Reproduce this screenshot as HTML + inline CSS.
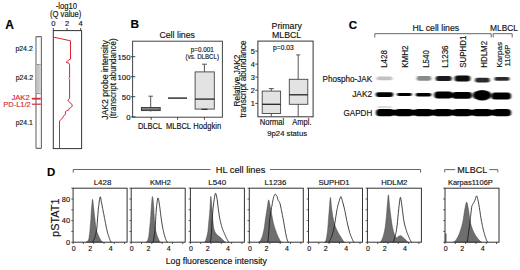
<!DOCTYPE html>
<html><head><meta charset="utf-8"><style>
html,body{margin:0;padding:0;background:#fff;width:520px;height:270px;overflow:hidden}
svg{display:block}
text{font-family:"Liberation Sans",sans-serif}
</style></head><body>
<svg width="520" height="270" viewBox="0 0 520 270">
<rect width="520" height="270" fill="#fff"/>
<text x="5.3" y="28.6" font-size="12" text-anchor="start" fill="#000" stroke="#000" stroke-width="0.15" font-weight="bold">A</text>
<text x="66.4" y="8.5" font-size="8.4" text-anchor="middle" fill="#111" stroke="#111" stroke-width="0.15" textLength="21.2" lengthAdjust="spacingAndGlyphs">-log10</text>
<text x="65.7" y="16.5" font-size="8.4" text-anchor="middle" fill="#111" stroke="#111" stroke-width="0.15" textLength="31.4" lengthAdjust="spacingAndGlyphs">(Q value)</text>
<text x="53.3" y="25.5" font-size="7.6" text-anchor="middle" fill="#111" stroke="#111" stroke-width="0.15">0</text>
<line x1="53.3" y1="28" x2="53.3" y2="30.6" stroke="#333" stroke-width="0.9"/>
<text x="67" y="25.5" font-size="7.6" text-anchor="middle" fill="#111" stroke="#111" stroke-width="0.15">2</text>
<line x1="67" y1="28" x2="67" y2="30.6" stroke="#333" stroke-width="0.9"/>
<text x="80.7" y="25.5" font-size="7.6" text-anchor="middle" fill="#111" stroke="#111" stroke-width="0.15">4</text>
<line x1="80.7" y1="28" x2="80.7" y2="30.6" stroke="#333" stroke-width="0.9"/>
<rect x="53.3" y="30.6" width="28.3" height="118" fill="none" stroke="#333" stroke-width="1"/>
<rect x="36.0" y="36.6" width="5.4" height="111.8" rx="0.6" ry="0.6" fill="#fff" stroke="#6a6a6a" stroke-width="1.1"/>
<rect x="36.5" y="64.0" width="4.4" height="28.6" fill="#c4c4c4"/>
<rect x="36.5" y="64.0" width="4.4" height="0.8" fill="#888"/>
<rect x="36.5" y="93.0" width="4.4" height="0.9" fill="#777"/>
<rect x="39.7" y="37.2" width="0.6" height="110.6" fill="#e2e2e2"/>
<line x1="31.8" y1="98.7" x2="40.8" y2="98.7" stroke="#d42a3a" stroke-width="1.8"/>
<line x1="31.8" y1="104.2" x2="40.8" y2="104.2" stroke="#d42a3a" stroke-width="1.2"/>
<text x="32.8" y="50.8" font-size="7.2" text-anchor="end" fill="#111" stroke="#111" stroke-width="0.15" textLength="17.4" lengthAdjust="spacingAndGlyphs">p24.2</text>
<text x="33.1" y="80.2" font-size="7.2" text-anchor="end" fill="#111" stroke="#111" stroke-width="0.15" textLength="17.4" lengthAdjust="spacingAndGlyphs">p24.2</text>
<text x="29.8" y="99.9" font-size="7.6" text-anchor="end" fill="#d42a3a" stroke="#d42a3a" stroke-width="0.15" textLength="18.4" lengthAdjust="spacingAndGlyphs">JAK2</text>
<text x="30.8" y="107.3" font-size="7.6" text-anchor="end" fill="#d42a3a" stroke="#d42a3a" stroke-width="0.15" textLength="27.6" lengthAdjust="spacingAndGlyphs">PD-L1/2</text>
<text x="32.9" y="125.2" font-size="7.2" text-anchor="end" fill="#111" stroke="#111" stroke-width="0.15" textLength="17.2" lengthAdjust="spacingAndGlyphs">p24.1</text>
<polyline fill="none" stroke="#d42536" stroke-width="1.0" points="53.3,37.1 70.5,40.8 70.5,59.2 68.3,60.3 66.1,62.4 68.9,63.1 69.6,64.8 69.6,77.6 68.9,78.4 69.6,79.2 69.6,98.2 68.0,100.2 68.6,101.3 70.2,103.0 72.0,104.4 72.3,106.2 70.7,107.5 69.4,108.3 68.6,110.1 66.3,110.9 65.4,111.7 65.4,114.1 64.5,115.4 63.2,116.2 62.8,117.7 61.8,118.9 60.5,119.8 59.5,121.2 59.5,148.5"/>
<text x="130.4" y="28.4" font-size="11.8" text-anchor="start" fill="#000" stroke="#000" stroke-width="0.15" font-weight="bold">B</text>
<text x="177.2" y="37.8" font-size="8.8" text-anchor="middle" fill="#111" stroke="#111" stroke-width="0.15" textLength="35.5" lengthAdjust="spacingAndGlyphs">Cell lines</text>
<rect x="132.6" y="41.2" width="89.8" height="76.0" fill="none" stroke="#444" stroke-width="1"/>
<line x1="131" y1="56.7" x2="135.3" y2="56.7" stroke="#333" stroke-width="0.9"/>
<text x="130.5" y="59.7" font-size="7.8" text-anchor="end" fill="#111" stroke="#111" stroke-width="0.15">150</text>
<line x1="131" y1="76.7" x2="135.3" y2="76.7" stroke="#333" stroke-width="0.9"/>
<text x="130.5" y="79.7" font-size="7.8" text-anchor="end" fill="#111" stroke="#111" stroke-width="0.15">100</text>
<line x1="131" y1="96.7" x2="135.3" y2="96.7" stroke="#333" stroke-width="0.9"/>
<text x="130.5" y="99.7" font-size="7.8" text-anchor="end" fill="#111" stroke="#111" stroke-width="0.15">50</text>
<line x1="131" y1="116.8" x2="135.3" y2="116.8" stroke="#333" stroke-width="0.9"/>
<text x="130.5" y="119.8" font-size="7.8" text-anchor="end" fill="#111" stroke="#111" stroke-width="0.15">0</text>
<line x1="151.2" y1="117.2" x2="151.2" y2="119.8" stroke="#333" stroke-width="0.9"/>
<line x1="177.6" y1="117.2" x2="177.6" y2="119.8" stroke="#333" stroke-width="0.9"/>
<line x1="204.4" y1="117.2" x2="204.4" y2="119.8" stroke="#333" stroke-width="0.9"/>
<text x="150.0" y="128.7" font-size="8.2" text-anchor="middle" fill="#111" stroke="#111" stroke-width="0.15" textLength="24.2" lengthAdjust="spacingAndGlyphs">DLBCL</text>
<text x="178.5" y="128.7" font-size="8.2" text-anchor="middle" fill="#111" stroke="#111" stroke-width="0.15" textLength="25.0" lengthAdjust="spacingAndGlyphs">MLBCL</text>
<text x="207.2" y="128.7" font-size="8.2" text-anchor="middle" fill="#111" stroke="#111" stroke-width="0.15" textLength="27.8" lengthAdjust="spacingAndGlyphs">Hodgkin</text>
<text x="202.2" y="52.1" font-size="6.4" text-anchor="middle" fill="#111" stroke="#111" stroke-width="0.15" textLength="23.0" lengthAdjust="spacingAndGlyphs">p=0.001</text>
<text x="202.3" y="58.6" font-size="6.8" text-anchor="middle" fill="#111" stroke="#111" stroke-width="0.15" textLength="33.4" lengthAdjust="spacingAndGlyphs">(vs. DLBCL)</text>
<line x1="150.7" y1="96.2" x2="150.7" y2="107.5" stroke="#444" stroke-width="0.9"/>
<line x1="148.4" y1="96.2" x2="152.9" y2="96.2" stroke="#444" stroke-width="0.9"/>
<rect x="141.4" y="107.5" width="18.8" height="3.1" fill="#bdbdbd" stroke="#333" stroke-width="0.9"/>
<line x1="141.4" y1="109.1" x2="160.2" y2="109.1" stroke="#222" stroke-width="0.9"/>
<line x1="150.7" y1="110.6" x2="150.7" y2="111.5" stroke="#444" stroke-width="0.9"/>
<line x1="168" y1="98.1" x2="187" y2="98.1" stroke="#333" stroke-width="1.5"/>
<line x1="204.4" y1="64.2" x2="204.4" y2="71.9" stroke="#444" stroke-width="0.9"/>
<line x1="202" y1="64.2" x2="207" y2="64.2" stroke="#444" stroke-width="0.9"/>
<rect x="195.1" y="71.9" width="19.2" height="37.2" fill="#e3e3e3" stroke="#444" stroke-width="0.9"/>
<line x1="195.1" y1="99.1" x2="214.3" y2="99.1" stroke="#222" stroke-width="1.3"/>
<line x1="201.5" y1="109.3" x2="207.5" y2="109.3" stroke="#222" stroke-width="1.1"/>
<text x="108.2" y="119.8" font-size="8.6" text-anchor="start" fill="#111" stroke="#111" stroke-width="0.15" textLength="79.6" lengthAdjust="spacingAndGlyphs" transform="rotate(-90 108.2 119.8)">JAK2 probe intensity</text>
<text x="115.8" y="118.6" font-size="8.6" text-anchor="start" fill="#111" stroke="#111" stroke-width="0.15" textLength="80.2" lengthAdjust="spacingAndGlyphs" transform="rotate(-90 115.8 118.6)">(transcript abundance)</text>
<text x="286.7" y="28.6" font-size="8.6" text-anchor="middle" fill="#111" stroke="#111" stroke-width="0.15" textLength="30.2" lengthAdjust="spacingAndGlyphs">Primary</text>
<text x="286.6" y="37.5" font-size="8.6" text-anchor="middle" fill="#111" stroke="#111" stroke-width="0.15" textLength="29.2" lengthAdjust="spacingAndGlyphs">MLBCL</text>
<rect x="257.9" y="41.1" width="55.2" height="75.7" fill="none" stroke="#333" stroke-width="1"/>
<line x1="255.3" y1="51.1" x2="257.9" y2="51.1" stroke="#333" stroke-width="0.9"/>
<text x="254.8" y="53.7" font-size="7.4" text-anchor="end" fill="#111" stroke="#111" stroke-width="0.15">5</text>
<line x1="255.3" y1="64.1" x2="257.9" y2="64.1" stroke="#333" stroke-width="0.9"/>
<text x="254.8" y="66.69999999999999" font-size="7.4" text-anchor="end" fill="#111" stroke="#111" stroke-width="0.15">4</text>
<line x1="255.3" y1="77.1" x2="257.9" y2="77.1" stroke="#333" stroke-width="0.9"/>
<text x="254.8" y="79.69999999999999" font-size="7.4" text-anchor="end" fill="#111" stroke="#111" stroke-width="0.15">3</text>
<line x1="255.3" y1="90.2" x2="257.9" y2="90.2" stroke="#333" stroke-width="0.9"/>
<text x="254.8" y="92.8" font-size="7.4" text-anchor="end" fill="#111" stroke="#111" stroke-width="0.15">2</text>
<line x1="255.3" y1="103.4" x2="257.9" y2="103.4" stroke="#333" stroke-width="0.9"/>
<text x="254.8" y="106.0" font-size="7.4" text-anchor="end" fill="#111" stroke="#111" stroke-width="0.15">1</text>
<text x="283.4" y="50.3" font-size="6.6" text-anchor="middle" fill="#111" stroke="#111" stroke-width="0.15" textLength="20.6" lengthAdjust="spacingAndGlyphs">p=0.03</text>
<line x1="271.3" y1="88.6" x2="271.3" y2="91.1" stroke="#444" stroke-width="0.9"/>
<line x1="268.8" y1="88.6" x2="273.8" y2="88.6" stroke="#444" stroke-width="0.9"/>
<rect x="262.2" y="91.1" width="18.4" height="22.4" fill="#e3e3e3" stroke="#444" stroke-width="0.9"/>
<line x1="262.2" y1="104.3" x2="280.6" y2="104.3" stroke="#222" stroke-width="1.3"/>
<line x1="271.3" y1="113.5" x2="271.3" y2="116.8" stroke="#444" stroke-width="0.9"/>
<line x1="298.2" y1="54.9" x2="298.2" y2="79.3" stroke="#444" stroke-width="0.9"/>
<line x1="296.2" y1="54.9" x2="300.2" y2="54.9" stroke="#444" stroke-width="0.9"/>
<rect x="289.3" y="79.3" width="18.5" height="25" fill="#e3e3e3" stroke="#444" stroke-width="0.9"/>
<line x1="289.3" y1="94.8" x2="307.8" y2="94.8" stroke="#222" stroke-width="1.3"/>
<line x1="298.2" y1="104.3" x2="298.2" y2="116.8" stroke="#444" stroke-width="0.9"/>
<text x="272.0" y="124.7" font-size="8.2" text-anchor="middle" fill="#111" stroke="#111" stroke-width="0.15" textLength="24.6" lengthAdjust="spacingAndGlyphs">Normal</text>
<text x="301.9" y="124.7" font-size="8.2" text-anchor="middle" fill="#111" stroke="#111" stroke-width="0.15" textLength="19.2" lengthAdjust="spacingAndGlyphs">Ampl.</text>
<text x="287.2" y="135.8" font-size="8.0" text-anchor="middle" fill="#111" stroke="#111" stroke-width="0.15" textLength="39.8" lengthAdjust="spacingAndGlyphs">9p24 status</text>
<text x="240.3" y="106.4" font-size="8.5" text-anchor="start" fill="#111" stroke="#111" stroke-width="0.15" textLength="51.8" lengthAdjust="spacingAndGlyphs" transform="rotate(-90 240.3 106.4)">Relative JAK2</text>
<text x="246.4" y="117.6" font-size="8.3" text-anchor="start" fill="#111" stroke="#111" stroke-width="0.15" textLength="77.2" lengthAdjust="spacingAndGlyphs" transform="rotate(-90 246.4 117.6)">transcript abundance</text>
<text x="348.7" y="28.9" font-size="11.6" text-anchor="start" fill="#000" stroke="#000" stroke-width="0.15" font-weight="bold">C</text>
<text x="435.8" y="31.0" font-size="8.6" text-anchor="middle" fill="#111" stroke="#111" stroke-width="0.15" textLength="46.8" lengthAdjust="spacingAndGlyphs">HL cell lines</text>
<text x="504.0" y="31.0" font-size="8.8" text-anchor="middle" fill="#111" stroke="#111" stroke-width="0.15" textLength="28.0" lengthAdjust="spacingAndGlyphs">MLBCL</text>
<polyline fill="none" stroke="#555" stroke-width="0.9" points="374.8,37.4 374.8,33.7 491.2,33.7 491.2,37.4"/>
<polyline fill="none" stroke="#555" stroke-width="0.9" points="493.2,37.4 493.2,33.7 512.2,33.7 512.2,37.4"/>
<text x="387.0" y="67.8" font-size="8.2" text-anchor="start" fill="#111" stroke="#111" stroke-width="0.15" textLength="17.6" lengthAdjust="spacingAndGlyphs" transform="rotate(-90 387.0 67.8)">L428</text>
<text x="408.2" y="67.8" font-size="8.2" text-anchor="start" fill="#111" stroke="#111" stroke-width="0.15" textLength="22.4" lengthAdjust="spacingAndGlyphs" transform="rotate(-90 408.2 67.8)">KMH2</text>
<text x="428.6" y="67.8" font-size="8.2" text-anchor="start" fill="#111" stroke="#111" stroke-width="0.15" textLength="17.6" lengthAdjust="spacingAndGlyphs" transform="rotate(-90 428.6 67.8)">L540</text>
<text x="447.6" y="67.8" font-size="8.2" text-anchor="start" fill="#111" stroke="#111" stroke-width="0.15" textLength="22.4" lengthAdjust="spacingAndGlyphs" transform="rotate(-90 447.6 67.8)">L1236</text>
<text x="465.9" y="67.8" font-size="8.2" text-anchor="start" fill="#111" stroke="#111" stroke-width="0.15" textLength="32.2" lengthAdjust="spacingAndGlyphs" transform="rotate(-90 465.9 67.8)">SUPHD1</text>
<text x="486.6" y="67.8" font-size="8.2" text-anchor="start" fill="#111" stroke="#111" stroke-width="0.15" textLength="27.0" lengthAdjust="spacingAndGlyphs" transform="rotate(-90 486.6 67.8)">HDLM2</text>
<text x="502.0" y="67.6" font-size="7.2" text-anchor="start" fill="#111" stroke="#111" stroke-width="0.15" textLength="25.6" lengthAdjust="spacingAndGlyphs" transform="rotate(-90 502.0 67.6)">Karpas</text>
<text x="509.6" y="66.4" font-size="7.0" text-anchor="start" fill="#111" stroke="#111" stroke-width="0.15" textLength="21.8" lengthAdjust="spacingAndGlyphs" transform="rotate(-90 509.6 66.4)">1106P</text>
<text x="372.2" y="81.5" font-size="8.4" text-anchor="end" fill="#111" stroke="#111" stroke-width="0.15" textLength="49.6" lengthAdjust="spacingAndGlyphs">Phospho-JAK</text>
<text x="372.2" y="97.4" font-size="8.4" text-anchor="end" fill="#111" stroke="#111" stroke-width="0.15" textLength="20.0" lengthAdjust="spacingAndGlyphs">JAK2</text>
<text x="372.2" y="116.0" font-size="8.4" text-anchor="end" fill="#111" stroke="#111" stroke-width="0.15" textLength="28.6" lengthAdjust="spacingAndGlyphs">GAPDH</text>
<defs><filter id="bl" x="-20%" y="-100%" width="140%" height="300%"><feGaussianBlur stdDeviation="0.9 0.7"/></filter></defs>
<g filter="url(#bl)">
<rect x="376.6" y="76.5" width="15.799999999999955" height="3.700000000000003" rx="1.8500000000000014" ry="1.8500000000000014" fill="#c2c2c2"/>
<rect x="416.6" y="76.1" width="14.799999999999955" height="4.6000000000000085" rx="2.3000000000000043" ry="2.3000000000000043" fill="#8a8a8a"/>
<rect x="435.7" y="76.1" width="16.100000000000023" height="5.0" rx="2.5" ry="2.5" fill="#1c1c1c"/>
<rect x="454.6" y="75.6" width="15.799999999999955" height="5.900000000000006" rx="2.950000000000003" ry="2.950000000000003" fill="#080808"/>
<rect x="475.0" y="77.8" width="14.800000000000011" height="4.799999999999997" rx="2.3999999999999986" ry="2.3999999999999986" fill="#2c2c2c"/>
<rect x="494.4" y="77.0" width="15.200000000000045" height="3.700000000000003" rx="1.8500000000000014" ry="1.8500000000000014" fill="#2c2c2c"/>
<rect x="375.7" y="92.2" width="17.600000000000023" height="4.700000000000003" rx="2.3500000000000014" ry="2.3500000000000014" fill="#050505"/>
<rect x="397.0" y="93.1" width="14.800000000000011" height="2.8000000000000114" rx="1.4000000000000057" ry="1.4000000000000057" fill="#050505"/>
<rect x="415.7" y="93.1" width="15.699999999999989" height="3.4000000000000057" rx="1.7000000000000028" ry="1.7000000000000028" fill="#050505"/>
<rect x="434.2" y="91.4" width="18.600000000000023" height="7.199999999999989" rx="3.5999999999999943" ry="3.5999999999999943" fill="#050505"/>
<rect x="452.0" y="91.9" width="20.0" height="6.799999999999997" rx="3.3999999999999986" ry="3.3999999999999986" fill="#050505"/>
<rect x="473.0" y="91.6" width="18.0" height="7.400000000000006" rx="3.700000000000003" ry="3.700000000000003" fill="#050505"/>
<rect x="491.4" y="92.6" width="19.700000000000045" height="7.0" rx="3.5" ry="3.5" fill="#050505"/>
<ellipse cx="482.2" cy="95.3" rx="8.6" ry="5.3" fill="#050505"/>
<rect x="376" y="109.8" width="135.2" height="5.8" rx="2.9" fill="#050505"/>
<rect x="376.1" y="108.9" width="17.8" height="7.4" rx="3.5" ry="3.7" fill="#050505"/>
<rect x="395.1" y="108.9" width="17.8" height="7.4" rx="3.5" ry="3.7" fill="#050505"/>
<rect x="414.1" y="108.9" width="18.3" height="7.4" rx="3.5" ry="3.7" fill="#050505"/>
<rect x="433.6" y="108.9" width="18.3" height="7.4" rx="3.5" ry="3.7" fill="#050505"/>
<rect x="453.1" y="108.9" width="18.3" height="7.4" rx="3.5" ry="3.7" fill="#050505"/>
<rect x="472.6" y="108.9" width="18.8" height="7.4" rx="3.5" ry="3.7" fill="#050505"/>
<rect x="493.1" y="108.9" width="17.8" height="7.4" rx="3.5" ry="3.7" fill="#050505"/>
<rect x="377.5" y="106.3" width="14" height="1.5" fill="#cfcfcf"/>
</g>
<text x="47.0" y="176.0" font-size="11.4" text-anchor="start" fill="#000" stroke="#000" stroke-width="0.15" font-weight="bold">D</text>
<polyline fill="none" stroke="#555" stroke-width="0.9" points="73.2,172.6 73.2,169.5 210.5,169.5"/>
<polyline fill="none" stroke="#555" stroke-width="0.9" points="270,169.5 420.6,169.5 420.6,172.6"/>
<text x="240.5" y="173.4" font-size="9.1" text-anchor="middle" fill="#111" stroke="#111" stroke-width="0.15" textLength="49.6" lengthAdjust="spacingAndGlyphs">HL cell lines</text>
<polyline fill="none" stroke="#555" stroke-width="0.9" points="444.7,172.4 444.7,169.6 455.2,169.6"/>
<polyline fill="none" stroke="#555" stroke-width="0.9" points="489.2,169.6 497.8,169.6 497.8,172.4"/>
<text x="472.2" y="173.3" font-size="9.1" text-anchor="middle" fill="#111" stroke="#111" stroke-width="0.15" textLength="30" lengthAdjust="spacingAndGlyphs">MLBCL</text>
<text x="102.5" y="184.8" font-size="7.6" text-anchor="middle" fill="#111" stroke="#111" stroke-width="0.15" textLength="17.6" lengthAdjust="spacingAndGlyphs">L428</text>
<g transform="translate(73.1,0)">
<polygon fill="#6e6e6e" stroke="#444" stroke-width="0.5" points="12.9,242.2 13.5,242.0 13.8,242.0 14.0,241.8 14.2,241.6 14.5,241.3 14.8,240.9 15.0,240.5 15.2,240.0 15.5,239.4 15.8,238.7 16.0,237.3 16.2,235.5 16.5,233.4 16.8,231.1 17.0,228.5 17.2,225.4 17.5,222.2 17.8,218.8 18.0,214.7 18.2,210.7 18.5,207.4 18.8,204.6 19.0,202.0 19.2,200.1 19.5,199.3 19.8,200.2 20.0,202.3 20.2,204.9 20.5,207.4 20.8,209.6 21.0,211.9 21.2,214.3 21.5,216.6 21.8,218.8 22.0,220.9 22.2,222.9 22.5,224.9 22.8,226.8 23.0,228.4 23.2,229.8 23.5,230.9 23.8,231.7 24.0,232.4 24.2,233.1 24.5,233.7 24.8,234.2 25.0,234.7 25.2,235.3 25.5,235.8 25.8,236.4 26.0,236.9 26.2,237.4 26.5,237.9 26.8,238.4 27.0,238.9 27.2,239.3 27.5,239.7 27.8,240.1 28.0,240.5 28.2,240.9 28.5,241.2 28.8,241.6 29.0,241.9 29.1,242.2 29.7,242.2"/>
<polyline fill="none" stroke="#111" stroke-width="0.8" points="18.9,242.2 19.5,242.0 19.8,241.7 20.0,241.3 20.2,240.8 20.5,240.3 20.8,239.8 21.0,239.2 21.2,238.6 21.5,237.9 21.8,237.2 22.0,236.5 22.2,235.6 22.5,234.7 22.8,233.6 23.0,232.5 23.2,231.2 23.5,229.7 23.8,227.9 24.0,225.7 24.2,222.0 24.5,217.9 24.8,214.5 25.0,211.7 25.2,209.1 25.5,206.7 25.8,204.7 26.0,202.9 26.2,201.1 26.5,199.4 26.8,198.0 27.0,197.1 27.2,196.8 27.5,197.5 27.8,198.9 28.0,200.5 28.2,201.8 28.5,203.1 28.8,204.4 29.0,205.7 29.2,207.0 29.5,208.3 29.8,209.6 30.0,210.8 30.2,212.1 30.5,213.4 30.8,214.7 31.0,216.0 31.2,217.2 31.5,218.5 31.8,219.8 32.0,221.1 32.2,222.4 32.5,223.7 32.8,225.0 33.0,226.3 33.2,227.6 33.5,228.8 33.8,229.9 34.0,230.9 34.2,231.9 34.5,232.8 34.8,233.7 35.0,234.5 35.2,235.3 35.5,236.1 35.8,236.9 36.0,237.6 36.2,238.3 36.5,239.0 36.8,239.6 37.0,240.2 37.2,240.8 37.5,241.4 37.8,241.9 37.8,242.2 38.4,242.2"/>
</g>
<rect x="73.1" y="188.2" width="54" height="54.0" fill="none" stroke="#333" stroke-width="1"/>
<line x1="71.3" y1="242.2" x2="73.1" y2="242.2" stroke="#333" stroke-width="0.8"/>
<line x1="71.3" y1="231.39999999999998" x2="73.1" y2="231.39999999999998" stroke="#333" stroke-width="0.8"/>
<line x1="71.3" y1="220.6" x2="73.1" y2="220.6" stroke="#333" stroke-width="0.8"/>
<line x1="71.3" y1="209.79999999999998" x2="73.1" y2="209.79999999999998" stroke="#333" stroke-width="0.8"/>
<line x1="71.3" y1="199.0" x2="73.1" y2="199.0" stroke="#333" stroke-width="0.8"/>
<line x1="71.3" y1="188.2" x2="73.1" y2="188.2" stroke="#333" stroke-width="0.8"/>
<line x1="73.1" y1="242.2" x2="73.1" y2="244.0" stroke="#333" stroke-width="0.8"/>
<line x1="83.39999999999999" y1="242.2" x2="83.39999999999999" y2="244.0" stroke="#333" stroke-width="0.8"/>
<line x1="93.69999999999999" y1="242.2" x2="93.69999999999999" y2="244.0" stroke="#333" stroke-width="0.8"/>
<line x1="104.0" y1="242.2" x2="104.0" y2="244.0" stroke="#333" stroke-width="0.8"/>
<line x1="114.3" y1="242.2" x2="114.3" y2="244.0" stroke="#333" stroke-width="0.8"/>
<line x1="124.6" y1="242.2" x2="124.6" y2="244.0" stroke="#333" stroke-width="0.8"/>
<text x="73.69999999999999" y="251.2" font-size="7.0" text-anchor="middle" fill="#111" stroke="#111" stroke-width="0.15">0</text>
<text x="90.3" y="251.2" font-size="7.0" text-anchor="middle" fill="#111" stroke="#111" stroke-width="0.15">2</text>
<text x="110.69999999999999" y="251.2" font-size="7.0" text-anchor="middle" fill="#111" stroke="#111" stroke-width="0.15">4</text>
<text x="160.5" y="184.8" font-size="7.6" text-anchor="middle" fill="#111" stroke="#111" stroke-width="0.15" textLength="20.8" lengthAdjust="spacingAndGlyphs">KMH2</text>
<g transform="translate(131.2,0)">
<polygon fill="#6e6e6e" stroke="#444" stroke-width="0.5" points="14.7,242.2 15.3,242.0 15.6,241.9 15.8,241.7 16.1,241.3 16.3,240.7 16.6,240.1 16.8,239.3 17.1,238.5 17.3,237.6 17.6,235.9 17.8,233.8 18.1,231.4 18.3,229.1 18.6,226.8 18.8,224.3 19.1,221.7 19.3,218.8 19.6,215.2 19.8,211.4 20.1,207.9 20.3,204.8 20.6,201.6 20.8,198.7 21.1,196.8 21.3,196.5 21.6,197.6 21.8,199.5 22.1,202.0 22.3,204.9 22.6,208.1 22.8,213.0 23.1,217.8 23.3,221.1 23.6,223.7 23.8,226.0 24.1,227.9 24.3,229.5 24.6,230.7 24.8,231.9 25.1,232.9 25.3,233.8 25.6,234.6 25.8,235.4 26.1,236.1 26.3,236.7 26.6,237.4 26.8,238.0 27.1,238.6 27.3,239.2 27.6,239.8 27.8,240.3 28.1,240.8 28.3,241.2 28.6,241.6 28.8,242.0 28.8,242.2 29.4,242.2"/>
<polyline fill="none" stroke="#111" stroke-width="0.8" points="21.5,242.2 22.1,242.0 22.4,240.2 22.6,238.4 22.9,236.7 23.1,235.1 23.4,233.6 23.6,231.8 23.9,229.4 24.1,225.4 24.4,220.8 24.6,216.7 24.9,212.5 25.1,209.1 25.4,206.6 25.6,204.4 25.9,202.3 26.1,200.5 26.4,199.1 26.6,198.2 26.9,198.0 27.1,198.5 27.4,199.4 27.6,200.7 27.9,202.3 28.1,204.0 28.4,205.7 28.6,207.4 28.9,209.4 29.1,211.6 29.4,213.6 29.6,215.5 29.9,217.4 30.1,219.3 30.4,221.1 30.6,222.8 30.9,224.3 31.1,225.7 31.4,227.1 31.6,228.4 31.9,229.6 32.1,230.7 32.4,231.8 32.6,232.8 32.9,233.8 33.1,234.8 33.4,235.7 33.6,236.6 33.9,237.4 34.1,238.2 34.4,238.9 34.6,239.5 34.9,240.1 35.1,240.7 35.4,241.2 35.6,241.7 35.8,242.2 36.4,242.2"/>
</g>
<rect x="131.2" y="188.2" width="54" height="54.0" fill="none" stroke="#333" stroke-width="1"/>
<line x1="129.39999999999998" y1="242.2" x2="131.2" y2="242.2" stroke="#333" stroke-width="0.8"/>
<line x1="129.39999999999998" y1="231.39999999999998" x2="131.2" y2="231.39999999999998" stroke="#333" stroke-width="0.8"/>
<line x1="129.39999999999998" y1="220.6" x2="131.2" y2="220.6" stroke="#333" stroke-width="0.8"/>
<line x1="129.39999999999998" y1="209.79999999999998" x2="131.2" y2="209.79999999999998" stroke="#333" stroke-width="0.8"/>
<line x1="129.39999999999998" y1="199.0" x2="131.2" y2="199.0" stroke="#333" stroke-width="0.8"/>
<line x1="129.39999999999998" y1="188.2" x2="131.2" y2="188.2" stroke="#333" stroke-width="0.8"/>
<line x1="131.2" y1="242.2" x2="131.2" y2="244.0" stroke="#333" stroke-width="0.8"/>
<line x1="141.5" y1="242.2" x2="141.5" y2="244.0" stroke="#333" stroke-width="0.8"/>
<line x1="151.79999999999998" y1="242.2" x2="151.79999999999998" y2="244.0" stroke="#333" stroke-width="0.8"/>
<line x1="162.1" y1="242.2" x2="162.1" y2="244.0" stroke="#333" stroke-width="0.8"/>
<line x1="172.39999999999998" y1="242.2" x2="172.39999999999998" y2="244.0" stroke="#333" stroke-width="0.8"/>
<line x1="182.7" y1="242.2" x2="182.7" y2="244.0" stroke="#333" stroke-width="0.8"/>
<text x="131.79999999999998" y="251.2" font-size="7.0" text-anchor="middle" fill="#111" stroke="#111" stroke-width="0.15">0</text>
<text x="148.39999999999998" y="251.2" font-size="7.0" text-anchor="middle" fill="#111" stroke="#111" stroke-width="0.15">2</text>
<text x="168.79999999999998" y="251.2" font-size="7.0" text-anchor="middle" fill="#111" stroke="#111" stroke-width="0.15">4</text>
<text x="217.2" y="184.8" font-size="7.6" text-anchor="middle" fill="#111" stroke="#111" stroke-width="0.15" textLength="17.8" lengthAdjust="spacingAndGlyphs">L540</text>
<g transform="translate(190.4,0)">
<polygon fill="#6e6e6e" stroke="#444" stroke-width="0.5" points="14.0,242.2 14.6,242.0 14.8,241.5 15.1,240.8 15.3,240.2 15.6,239.4 15.8,238.6 16.1,237.8 16.3,237.0 16.6,236.1 16.8,235.0 17.1,233.9 17.3,232.5 17.6,230.9 17.8,228.4 18.1,225.6 18.3,222.8 18.6,220.1 18.8,217.5 19.1,214.7 19.3,211.8 19.6,208.7 19.8,204.3 20.1,199.3 20.3,196.4 20.6,196.9 20.8,199.0 21.1,202.0 21.3,205.4 21.6,208.7 21.8,212.1 22.1,216.0 22.3,219.5 22.6,222.1 22.8,224.3 23.1,226.3 23.3,227.9 23.6,229.1 23.8,230.0 24.1,230.7 24.3,231.3 24.6,231.8 24.8,232.3 25.1,232.7 25.3,233.1 25.6,233.4 25.8,233.8 26.1,234.1 26.3,234.4 26.6,234.6 26.8,234.9 27.1,235.1 27.3,235.4 27.6,235.6 27.8,235.8 28.1,235.9 28.3,236.1 28.6,236.3 28.8,236.5 29.1,236.7 29.3,236.9 29.6,237.1 29.8,237.3 30.1,237.5 30.3,237.7 30.6,238.0 30.8,238.2 31.1,238.5 31.3,238.7 31.6,239.0 31.8,239.2 32.1,239.5 32.3,239.7 32.6,240.0 32.8,240.3 33.1,240.5 33.3,240.8 33.6,241.1 33.8,241.4 34.1,241.7 34.3,241.9 34.4,242.2 35.0,242.2"/>
<polyline fill="none" stroke="#111" stroke-width="0.8" points="19.5,242.2 20.1,242.0 20.3,240.4 20.6,238.2 20.8,235.4 21.1,232.2 21.3,227.7 21.6,223.3 21.8,219.5 22.1,215.8 22.3,212.5 22.6,209.7 22.8,207.2 23.1,204.9 23.3,202.9 23.6,201.0 23.8,199.4 24.1,197.8 24.3,196.2 24.6,194.8 24.8,193.8 25.1,193.3 25.3,193.3 25.6,193.8 25.8,194.7 26.1,195.8 26.3,197.1 26.6,198.4 26.8,199.9 27.1,201.9 27.3,204.1 27.6,206.3 27.8,208.3 28.1,210.1 28.3,211.9 28.6,213.7 28.8,215.4 29.1,216.9 29.3,218.3 29.6,219.6 29.8,220.7 30.1,221.8 30.3,222.9 30.6,223.8 30.8,224.8 31.1,225.6 31.3,226.5 31.6,227.3 31.8,228.1 32.1,228.8 32.3,229.5 32.6,230.2 32.8,230.8 33.1,231.4 33.3,232.0 33.6,232.6 33.8,233.2 34.1,233.7 34.3,234.3 34.6,234.8 34.8,235.4 35.1,235.9 35.3,236.5 35.6,237.0 35.8,237.5 36.1,238.0 36.3,238.5 36.6,239.0 36.8,239.5 37.1,240.0 37.3,240.5 37.6,240.9 37.8,241.4 38.1,241.8 38.2,242.2 38.8,242.2"/>
</g>
<rect x="190.4" y="188.2" width="54" height="54.0" fill="none" stroke="#333" stroke-width="1"/>
<line x1="188.6" y1="242.2" x2="190.4" y2="242.2" stroke="#333" stroke-width="0.8"/>
<line x1="188.6" y1="231.39999999999998" x2="190.4" y2="231.39999999999998" stroke="#333" stroke-width="0.8"/>
<line x1="188.6" y1="220.6" x2="190.4" y2="220.6" stroke="#333" stroke-width="0.8"/>
<line x1="188.6" y1="209.79999999999998" x2="190.4" y2="209.79999999999998" stroke="#333" stroke-width="0.8"/>
<line x1="188.6" y1="199.0" x2="190.4" y2="199.0" stroke="#333" stroke-width="0.8"/>
<line x1="188.6" y1="188.2" x2="190.4" y2="188.2" stroke="#333" stroke-width="0.8"/>
<line x1="190.4" y1="242.2" x2="190.4" y2="244.0" stroke="#333" stroke-width="0.8"/>
<line x1="200.70000000000002" y1="242.2" x2="200.70000000000002" y2="244.0" stroke="#333" stroke-width="0.8"/>
<line x1="211.0" y1="242.2" x2="211.0" y2="244.0" stroke="#333" stroke-width="0.8"/>
<line x1="221.3" y1="242.2" x2="221.3" y2="244.0" stroke="#333" stroke-width="0.8"/>
<line x1="231.60000000000002" y1="242.2" x2="231.60000000000002" y2="244.0" stroke="#333" stroke-width="0.8"/>
<line x1="241.9" y1="242.2" x2="241.9" y2="244.0" stroke="#333" stroke-width="0.8"/>
<text x="191.0" y="251.2" font-size="7.0" text-anchor="middle" fill="#111" stroke="#111" stroke-width="0.15">0</text>
<text x="207.6" y="251.2" font-size="7.0" text-anchor="middle" fill="#111" stroke="#111" stroke-width="0.15">2</text>
<text x="228.0" y="251.2" font-size="7.0" text-anchor="middle" fill="#111" stroke="#111" stroke-width="0.15">4</text>
<text x="275.4" y="184.8" font-size="7.6" text-anchor="middle" fill="#111" stroke="#111" stroke-width="0.15" textLength="21.8" lengthAdjust="spacingAndGlyphs">L1236</text>
<g transform="translate(249.3,0)">
<polygon fill="#6e6e6e" stroke="#444" stroke-width="0.5" points="9.1,242.2 9.7,242.0 9.9,241.9 10.2,241.7 10.4,241.5 10.7,241.2 10.9,240.8 11.2,240.4 11.4,240.0 11.7,239.5 11.9,238.9 12.2,238.4 12.4,237.8 12.7,237.3 12.9,236.6 13.2,235.8 13.4,235.0 13.7,234.0 13.9,232.9 14.2,231.8 14.4,230.7 14.7,229.4 14.9,228.1 15.2,226.4 15.4,224.6 15.7,222.7 15.9,220.7 16.2,218.9 16.4,217.2 16.7,215.6 16.9,214.0 17.2,212.4 17.4,210.9 17.7,209.3 17.9,207.8 18.2,206.1 18.4,204.2 18.7,202.3 18.9,200.8 19.2,199.9 19.4,199.9 19.7,200.4 19.9,201.4 20.2,202.6 20.4,204.0 20.7,205.4 20.9,206.7 21.2,208.0 21.4,209.3 21.7,210.6 21.9,212.0 22.2,213.3 22.4,214.7 22.7,216.0 22.9,217.3 23.2,218.6 23.4,219.8 23.7,221.1 23.9,222.3 24.2,223.4 24.4,224.4 24.7,225.3 24.9,226.2 25.2,227.0 25.4,227.8 25.7,228.5 25.9,229.2 26.2,229.9 26.4,230.6 26.7,231.3 26.9,232.0 27.2,232.7 27.4,233.3 27.7,234.0 27.9,234.6 28.2,235.2 28.4,235.8 28.7,236.4 28.9,236.9 29.2,237.5 29.4,238.0 29.7,238.5 29.9,239.0 30.2,239.5 30.4,239.9 30.7,240.4 30.9,240.8 31.2,241.2 31.4,241.6 31.7,242.0 31.7,242.2 32.3,242.2"/>
<polyline fill="none" stroke="#111" stroke-width="0.8" points="17.9,242.2 18.5,242.0 18.8,240.0 19.0,237.7 19.2,235.0 19.5,232.0 19.8,228.2 20.0,224.0 20.2,220.9 20.5,218.7 20.8,216.8 21.0,215.2 21.2,213.6 21.5,212.0 21.8,210.5 22.0,209.1 22.2,207.7 22.5,206.4 22.8,205.0 23.0,203.7 23.2,202.3 23.5,200.9 23.8,199.6 24.0,198.5 24.2,197.5 24.5,196.7 24.8,196.1 25.0,195.4 25.2,194.9 25.5,194.5 25.8,194.2 26.0,194.2 26.2,194.3 26.5,194.5 26.8,194.8 27.0,195.1 27.2,195.5 27.5,195.9 27.8,196.4 28.0,197.2 28.2,198.3 28.5,199.4 28.8,200.1 29.0,200.6 29.2,200.9 29.5,201.2 29.8,201.5 30.0,201.8 30.2,202.3 30.5,202.9 30.8,203.8 31.0,204.8 31.2,206.0 31.5,207.2 31.8,208.4 32.0,209.6 32.2,210.8 32.5,212.0 32.8,213.2 33.0,214.5 33.2,215.8 33.5,217.1 33.8,218.4 34.0,219.8 34.2,221.1 34.5,222.6 34.8,224.0 35.0,225.5 35.2,226.9 35.5,228.4 35.8,229.7 36.0,231.1 36.2,232.4 36.5,233.8 36.8,235.0 37.0,236.2 37.2,237.3 37.5,238.3 37.8,239.2 38.0,240.0 38.2,240.8 38.5,241.5 38.7,242.2 39.3,242.2"/>
</g>
<rect x="249.3" y="188.2" width="54" height="54.0" fill="none" stroke="#333" stroke-width="1"/>
<line x1="247.5" y1="242.2" x2="249.3" y2="242.2" stroke="#333" stroke-width="0.8"/>
<line x1="247.5" y1="231.39999999999998" x2="249.3" y2="231.39999999999998" stroke="#333" stroke-width="0.8"/>
<line x1="247.5" y1="220.6" x2="249.3" y2="220.6" stroke="#333" stroke-width="0.8"/>
<line x1="247.5" y1="209.79999999999998" x2="249.3" y2="209.79999999999998" stroke="#333" stroke-width="0.8"/>
<line x1="247.5" y1="199.0" x2="249.3" y2="199.0" stroke="#333" stroke-width="0.8"/>
<line x1="247.5" y1="188.2" x2="249.3" y2="188.2" stroke="#333" stroke-width="0.8"/>
<line x1="249.3" y1="242.2" x2="249.3" y2="244.0" stroke="#333" stroke-width="0.8"/>
<line x1="259.6" y1="242.2" x2="259.6" y2="244.0" stroke="#333" stroke-width="0.8"/>
<line x1="269.90000000000003" y1="242.2" x2="269.90000000000003" y2="244.0" stroke="#333" stroke-width="0.8"/>
<line x1="280.2" y1="242.2" x2="280.2" y2="244.0" stroke="#333" stroke-width="0.8"/>
<line x1="290.5" y1="242.2" x2="290.5" y2="244.0" stroke="#333" stroke-width="0.8"/>
<line x1="300.8" y1="242.2" x2="300.8" y2="244.0" stroke="#333" stroke-width="0.8"/>
<text x="249.9" y="251.2" font-size="7.0" text-anchor="middle" fill="#111" stroke="#111" stroke-width="0.15">0</text>
<text x="266.5" y="251.2" font-size="7.0" text-anchor="middle" fill="#111" stroke="#111" stroke-width="0.15">2</text>
<text x="286.90000000000003" y="251.2" font-size="7.0" text-anchor="middle" fill="#111" stroke="#111" stroke-width="0.15">4</text>
<text x="334.0" y="184.8" font-size="7.6" text-anchor="middle" fill="#111" stroke="#111" stroke-width="0.15" textLength="31.2" lengthAdjust="spacingAndGlyphs">SUPHD1</text>
<g transform="translate(308.5,0)">
<polygon fill="#6e6e6e" stroke="#444" stroke-width="0.5" points="16.2,242.2 16.8,242.0 17.1,241.4 17.3,240.6 17.6,239.7 17.8,238.6 18.1,237.4 18.3,236.0 18.6,234.4 18.8,232.6 19.1,230.6 19.3,227.8 19.6,224.6 19.8,221.3 20.1,218.1 20.3,214.9 20.6,211.7 20.8,208.7 21.1,205.5 21.3,202.1 21.6,199.2 21.8,197.5 22.1,197.7 22.3,199.8 22.6,202.9 22.8,205.8 23.1,207.9 23.3,209.8 23.6,211.7 23.8,213.4 24.1,215.0 24.3,216.5 24.6,217.8 24.8,219.0 25.1,220.2 25.3,221.3 25.6,222.3 25.8,223.3 26.1,224.2 26.3,225.0 26.6,225.7 26.8,226.5 27.1,227.1 27.3,227.8 27.6,228.4 27.8,228.9 28.1,229.5 28.3,230.0 28.6,230.5 28.8,231.0 29.1,231.5 29.3,232.0 29.6,232.4 29.8,232.9 30.1,233.3 30.3,233.7 30.6,234.2 30.8,234.6 31.1,235.0 31.3,235.4 31.6,235.8 31.8,236.1 32.1,236.6 32.3,237.0 32.6,237.4 32.8,237.8 33.1,238.2 33.3,238.6 33.6,239.0 33.8,239.4 34.1,239.8 34.3,240.2 34.6,240.6 34.8,241.0 35.1,241.4 35.3,241.8 35.4,242.2 36.0,242.2"/>
<polyline fill="none" stroke="#111" stroke-width="0.8" points="19.9,242.2 20.5,242.0 20.8,241.7 21.0,241.3 21.2,240.9 21.5,240.4 21.8,239.9 22.0,239.4 22.2,238.8 22.5,238.2 22.8,237.6 23.0,236.9 23.2,236.3 23.5,235.6 23.8,234.8 24.0,234.0 24.2,233.1 24.5,232.2 24.8,231.2 25.0,230.2 25.2,229.1 25.5,228.0 25.8,226.6 26.0,225.2 26.2,223.7 26.5,222.1 26.8,220.6 27.0,219.1 27.2,217.4 27.5,215.7 27.8,214.0 28.0,212.4 28.2,210.9 28.5,209.6 28.8,208.4 29.0,207.3 29.2,206.2 29.5,205.2 29.8,204.2 30.0,203.3 30.2,202.4 30.5,201.6 30.8,200.8 31.0,200.0 31.2,199.2 31.5,198.4 31.8,197.6 32.0,197.1 32.2,196.8 32.5,196.7 32.8,197.1 33.0,197.7 33.2,198.6 33.5,199.5 33.8,200.5 34.0,201.3 34.2,202.2 34.5,203.1 34.8,204.0 35.0,205.0 35.2,206.0 35.5,207.0 35.8,208.1 36.0,209.2 36.2,210.3 36.5,211.5 36.8,212.8 37.0,214.1 37.2,215.4 37.5,216.7 37.8,218.0 38.0,219.2 38.2,220.3 38.5,221.5 38.8,222.7 39.0,223.8 39.2,224.9 39.5,226.0 39.8,227.0 40.0,228.0 40.2,229.0 40.5,230.0 40.8,231.0 41.0,231.9 41.2,232.7 41.5,233.5 41.8,234.2 42.0,234.9 42.2,235.6 42.5,236.2 42.8,236.8 43.0,237.4 43.2,238.0 43.5,238.6 43.8,239.2 44.0,239.7 44.2,240.3 44.5,240.8 44.8,241.3 45.0,241.8 45.1,242.2 45.7,242.2"/>
</g>
<rect x="308.5" y="188.2" width="54" height="54.0" fill="none" stroke="#333" stroke-width="1"/>
<line x1="306.7" y1="242.2" x2="308.5" y2="242.2" stroke="#333" stroke-width="0.8"/>
<line x1="306.7" y1="231.39999999999998" x2="308.5" y2="231.39999999999998" stroke="#333" stroke-width="0.8"/>
<line x1="306.7" y1="220.6" x2="308.5" y2="220.6" stroke="#333" stroke-width="0.8"/>
<line x1="306.7" y1="209.79999999999998" x2="308.5" y2="209.79999999999998" stroke="#333" stroke-width="0.8"/>
<line x1="306.7" y1="199.0" x2="308.5" y2="199.0" stroke="#333" stroke-width="0.8"/>
<line x1="306.7" y1="188.2" x2="308.5" y2="188.2" stroke="#333" stroke-width="0.8"/>
<line x1="308.5" y1="242.2" x2="308.5" y2="244.0" stroke="#333" stroke-width="0.8"/>
<line x1="318.8" y1="242.2" x2="318.8" y2="244.0" stroke="#333" stroke-width="0.8"/>
<line x1="329.1" y1="242.2" x2="329.1" y2="244.0" stroke="#333" stroke-width="0.8"/>
<line x1="339.4" y1="242.2" x2="339.4" y2="244.0" stroke="#333" stroke-width="0.8"/>
<line x1="349.7" y1="242.2" x2="349.7" y2="244.0" stroke="#333" stroke-width="0.8"/>
<line x1="360.0" y1="242.2" x2="360.0" y2="244.0" stroke="#333" stroke-width="0.8"/>
<text x="309.1" y="251.2" font-size="7.0" text-anchor="middle" fill="#111" stroke="#111" stroke-width="0.15">0</text>
<text x="325.7" y="251.2" font-size="7.0" text-anchor="middle" fill="#111" stroke="#111" stroke-width="0.15">2</text>
<text x="346.1" y="251.2" font-size="7.0" text-anchor="middle" fill="#111" stroke="#111" stroke-width="0.15">4</text>
<text x="394.3" y="184.8" font-size="7.6" text-anchor="middle" fill="#111" stroke="#111" stroke-width="0.15" textLength="26.2" lengthAdjust="spacingAndGlyphs">HDLM2</text>
<g transform="translate(367.4,0)">
<polygon fill="#6e6e6e" stroke="#444" stroke-width="0.5" points="12.5,242.2 13.1,242.0 13.4,241.7 13.6,241.3 13.9,240.9 14.1,240.4 14.4,239.9 14.6,239.3 14.9,238.7 15.1,238.1 15.4,237.4 15.6,236.7 15.9,235.9 16.1,235.1 16.4,234.2 16.6,233.2 16.9,232.2 17.1,231.0 17.4,229.8 17.6,228.3 17.9,226.6 18.1,224.6 18.4,222.4 18.6,220.0 18.9,217.5 19.1,214.8 19.4,211.5 19.6,208.2 19.9,205.1 20.1,202.3 20.4,199.3 20.6,196.6 20.9,194.9 21.1,194.8 21.4,196.7 21.6,199.8 21.9,203.0 22.1,205.5 22.4,207.7 22.6,209.9 22.9,212.0 23.1,214.0 23.4,215.9 23.6,217.7 23.9,219.6 24.1,221.4 24.4,223.1 24.6,224.7 24.9,226.1 25.1,227.4 25.4,228.5 25.6,229.6 25.9,230.6 26.1,231.5 26.4,232.4 26.6,233.2 26.9,233.9 27.1,234.5 27.4,235.0 27.6,235.5 27.9,236.0 28.1,236.5 28.4,237.0 28.6,237.3 28.9,237.6 29.1,237.8 29.4,237.8 29.6,237.7 29.9,237.5 30.1,237.3 30.4,237.0 30.6,236.7 30.9,236.4 31.1,236.2 31.4,236.1 31.6,236.0 31.9,235.9 32.1,235.9 32.4,235.8 32.6,235.8 32.9,235.7 33.1,235.7 33.4,235.7 33.6,235.7 33.9,235.8 34.1,236.0 34.4,236.2 34.6,236.5 34.9,236.7 35.1,237.0 35.4,237.3 35.6,237.5 35.9,237.7 36.1,237.9 36.4,238.1 36.6,238.4 36.9,238.6 37.1,238.8 37.4,239.1 37.6,239.3 37.9,239.5 38.1,239.8 38.4,240.0 38.6,240.3 38.9,240.6 39.1,240.8 39.4,241.1 39.6,241.4 39.9,241.7 40.1,242.0 40.1,242.2 40.7,242.2"/>
<polyline fill="none" stroke="#111" stroke-width="0.8" points="25.5,242.2 26.1,242.0 26.4,241.0 26.6,240.1 26.9,239.1 27.1,238.2 27.4,237.3 27.6,236.4 27.9,235.6 28.1,234.7 28.4,233.7 28.6,232.6 28.9,231.3 29.1,229.7 29.4,228.0 29.6,226.1 29.9,224.0 30.1,221.5 30.4,218.7 30.6,216.0 30.9,213.5 31.1,211.0 31.4,208.5 31.6,206.2 31.9,204.2 32.1,202.2 32.4,200.2 32.6,198.5 32.9,197.5 33.1,197.4 33.4,198.3 33.6,199.8 33.9,201.5 34.1,203.1 34.4,204.9 34.6,206.9 34.9,208.9 35.1,210.8 35.4,212.7 35.6,214.8 35.9,216.8 36.1,218.7 36.4,220.3 36.6,221.7 36.9,222.9 37.1,224.1 37.4,225.1 37.6,226.1 37.9,227.0 38.1,227.9 38.4,228.7 38.6,229.5 38.9,230.3 39.1,231.1 39.4,231.8 39.6,232.5 39.9,233.2 40.1,233.8 40.4,234.5 40.6,235.1 40.9,235.7 41.1,236.3 41.4,236.9 41.6,237.5 41.9,238.1 42.1,238.6 42.4,239.2 42.6,239.7 42.9,240.2 43.1,240.7 43.4,241.2 43.6,241.6 43.8,242.2 44.4,242.2"/>
</g>
<rect x="367.4" y="188.2" width="54" height="54.0" fill="none" stroke="#333" stroke-width="1"/>
<line x1="365.59999999999997" y1="242.2" x2="367.4" y2="242.2" stroke="#333" stroke-width="0.8"/>
<line x1="365.59999999999997" y1="231.39999999999998" x2="367.4" y2="231.39999999999998" stroke="#333" stroke-width="0.8"/>
<line x1="365.59999999999997" y1="220.6" x2="367.4" y2="220.6" stroke="#333" stroke-width="0.8"/>
<line x1="365.59999999999997" y1="209.79999999999998" x2="367.4" y2="209.79999999999998" stroke="#333" stroke-width="0.8"/>
<line x1="365.59999999999997" y1="199.0" x2="367.4" y2="199.0" stroke="#333" stroke-width="0.8"/>
<line x1="365.59999999999997" y1="188.2" x2="367.4" y2="188.2" stroke="#333" stroke-width="0.8"/>
<line x1="367.4" y1="242.2" x2="367.4" y2="244.0" stroke="#333" stroke-width="0.8"/>
<line x1="377.7" y1="242.2" x2="377.7" y2="244.0" stroke="#333" stroke-width="0.8"/>
<line x1="388.0" y1="242.2" x2="388.0" y2="244.0" stroke="#333" stroke-width="0.8"/>
<line x1="398.29999999999995" y1="242.2" x2="398.29999999999995" y2="244.0" stroke="#333" stroke-width="0.8"/>
<line x1="408.59999999999997" y1="242.2" x2="408.59999999999997" y2="244.0" stroke="#333" stroke-width="0.8"/>
<line x1="418.9" y1="242.2" x2="418.9" y2="244.0" stroke="#333" stroke-width="0.8"/>
<text x="368.0" y="251.2" font-size="7.0" text-anchor="middle" fill="#111" stroke="#111" stroke-width="0.15">0</text>
<text x="384.59999999999997" y="251.2" font-size="7.0" text-anchor="middle" fill="#111" stroke="#111" stroke-width="0.15">2</text>
<text x="405.0" y="251.2" font-size="7.0" text-anchor="middle" fill="#111" stroke="#111" stroke-width="0.15">4</text>
<text x="470.4" y="184.8" font-size="7.6" text-anchor="middle" fill="#111" stroke="#111" stroke-width="0.15" textLength="45.0" lengthAdjust="spacingAndGlyphs">Karpas1106P</text>
<g transform="translate(445.0,0)">
<polygon fill="#6e6e6e" stroke="#444" stroke-width="0.5" points="8.5,242.2 9.1,242.0 9.4,241.8 9.6,241.6 9.9,241.3 10.1,241.0 10.4,240.7 10.6,240.4 10.9,240.1 11.1,239.7 11.4,239.3 11.6,238.9 11.9,238.5 12.1,238.1 12.4,237.7 12.6,237.3 12.9,236.8 13.1,236.3 13.4,235.8 13.6,235.2 13.9,234.6 14.1,234.0 14.4,233.4 14.6,232.7 14.9,232.1 15.1,231.4 15.4,230.6 15.6,229.9 15.9,229.1 16.1,228.3 16.4,227.5 16.6,226.6 16.9,225.7 17.1,224.7 17.4,223.7 17.6,222.6 17.9,221.4 18.1,220.2 18.4,218.7 18.6,217.0 18.9,215.3 19.1,213.6 19.4,211.9 19.6,210.3 19.9,208.9 20.1,207.7 20.4,206.4 20.6,205.1 20.9,203.9 21.1,203.0 21.4,202.3 21.6,202.1 21.9,202.3 22.1,202.9 22.4,203.9 22.6,205.0 22.9,206.3 23.1,207.6 23.4,209.0 23.6,210.6 23.9,212.6 24.1,214.7 24.4,216.8 24.6,218.5 24.9,219.9 25.1,221.1 25.4,222.2 25.6,223.3 25.9,224.2 26.1,225.2 26.4,226.0 26.6,226.8 26.9,227.5 27.1,228.3 27.4,228.9 27.6,229.6 27.9,230.2 28.1,230.8 28.4,231.3 28.6,231.9 28.9,232.4 29.1,232.9 29.4,233.3 29.6,233.8 29.9,234.2 30.1,234.7 30.4,235.1 30.6,235.5 30.9,235.9 31.1,236.2 31.4,236.6 31.6,237.0 31.9,237.3 32.1,237.7 32.4,238.0 32.6,238.3 32.9,238.6 33.1,238.9 33.4,239.2 33.6,239.5 33.9,239.8 34.1,240.1 34.4,240.3 34.6,240.6 34.9,240.9 35.1,241.1 35.4,241.3 35.6,241.6 35.9,241.8 36.1,242.0 36.1,242.2 36.7,242.2"/>
<polyline fill="none" stroke="#111" stroke-width="0.8" points="21.7,242.2 22.3,242.0 22.6,240.1 22.8,238.3 23.1,236.4 23.3,234.6 23.6,232.7 23.8,230.9 24.1,229.1 24.3,227.3 24.6,225.5 24.8,223.5 25.1,221.1 25.3,218.7 25.6,216.3 25.8,214.2 26.1,212.0 26.3,209.8 26.6,207.9 26.8,206.4 27.1,205.5 27.3,204.9 27.6,204.5 27.8,204.2 28.1,203.8 28.3,203.4 28.6,203.0 28.8,202.5 29.1,202.1 29.3,201.6 29.6,201.1 29.8,200.6 30.1,200.0 30.3,199.3 30.6,198.4 30.8,197.5 31.1,196.7 31.3,196.2 31.6,195.9 31.8,196.0 32.1,196.6 32.3,197.4 32.6,198.5 32.8,199.6 33.1,200.6 33.3,201.8 33.6,203.1 33.8,204.5 34.1,206.0 34.3,207.5 34.6,209.0 34.8,210.6 35.1,212.3 35.3,214.0 35.6,215.7 35.8,217.3 36.1,218.8 36.3,220.2 36.6,221.6 36.8,222.9 37.1,224.2 37.3,225.5 37.6,226.6 37.8,227.8 38.1,228.9 38.3,229.9 38.6,230.9 38.8,231.8 39.1,232.7 39.3,233.6 39.6,234.5 39.8,235.3 40.1,236.0 40.3,236.8 40.6,237.5 40.8,238.2 41.1,238.9 41.3,239.6 41.6,240.2 41.8,240.9 42.1,241.4 42.3,242.0 42.3,242.2 42.9,242.2"/>
</g>
<rect x="445.0" y="188.2" width="54" height="54.0" fill="none" stroke="#333" stroke-width="1"/>
<line x1="443.2" y1="242.2" x2="445.0" y2="242.2" stroke="#333" stroke-width="0.8"/>
<line x1="443.2" y1="231.39999999999998" x2="445.0" y2="231.39999999999998" stroke="#333" stroke-width="0.8"/>
<line x1="443.2" y1="220.6" x2="445.0" y2="220.6" stroke="#333" stroke-width="0.8"/>
<line x1="443.2" y1="209.79999999999998" x2="445.0" y2="209.79999999999998" stroke="#333" stroke-width="0.8"/>
<line x1="443.2" y1="199.0" x2="445.0" y2="199.0" stroke="#333" stroke-width="0.8"/>
<line x1="443.2" y1="188.2" x2="445.0" y2="188.2" stroke="#333" stroke-width="0.8"/>
<line x1="445.0" y1="242.2" x2="445.0" y2="244.0" stroke="#333" stroke-width="0.8"/>
<line x1="455.3" y1="242.2" x2="455.3" y2="244.0" stroke="#333" stroke-width="0.8"/>
<line x1="465.6" y1="242.2" x2="465.6" y2="244.0" stroke="#333" stroke-width="0.8"/>
<line x1="475.9" y1="242.2" x2="475.9" y2="244.0" stroke="#333" stroke-width="0.8"/>
<line x1="486.2" y1="242.2" x2="486.2" y2="244.0" stroke="#333" stroke-width="0.8"/>
<line x1="496.5" y1="242.2" x2="496.5" y2="244.0" stroke="#333" stroke-width="0.8"/>
<text x="445.6" y="251.2" font-size="7.0" text-anchor="middle" fill="#111" stroke="#111" stroke-width="0.15">0</text>
<text x="462.2" y="251.2" font-size="7.0" text-anchor="middle" fill="#111" stroke="#111" stroke-width="0.15">2</text>
<text x="482.6" y="251.2" font-size="7.0" text-anchor="middle" fill="#111" stroke="#111" stroke-width="0.15">4</text>
<line x1="445.9" y1="233.5" x2="445.9" y2="242" stroke="#222" stroke-width="0.9"/>
<text x="70.0" y="202.1" font-size="7.4" text-anchor="end" fill="#111" stroke="#111" stroke-width="0.15">80</text>
<text x="70.0" y="223.1" font-size="7.4" text-anchor="end" fill="#111" stroke="#111" stroke-width="0.15">40</text>
<text x="70.0" y="244.5" font-size="7.4" text-anchor="end" fill="#111" stroke="#111" stroke-width="0.15">0</text>
<text x="58.9" y="236.9" font-size="11.4" text-anchor="start" fill="#111" stroke="#111" stroke-width="0.15" textLength="38.4" lengthAdjust="spacingAndGlyphs" transform="rotate(-90 58.9 236.9)">pSTAT1</text>
<text x="216.3" y="263.7" font-size="8.5" text-anchor="middle" fill="#111" stroke="#111" stroke-width="0.15" textLength="101.2" lengthAdjust="spacingAndGlyphs">Log fluorescence intensity</text>
</svg>
</body></html>
